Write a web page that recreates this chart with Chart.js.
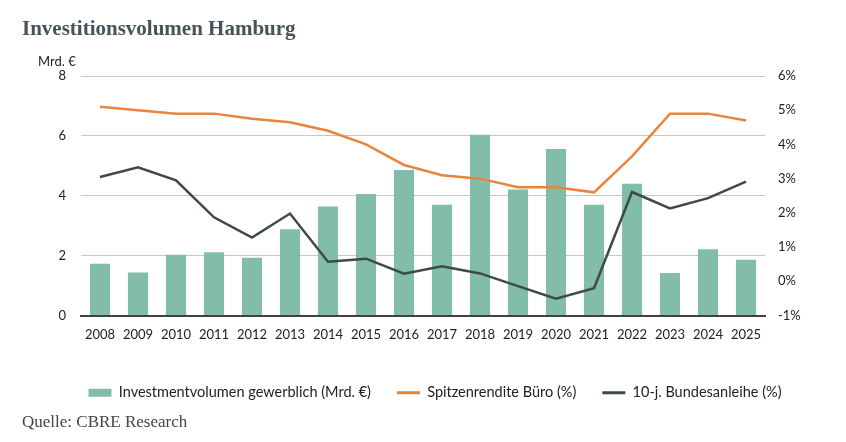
<!DOCTYPE html>
<html><head><meta charset="utf-8">
<script src="https://cdn.jsdelivr.net/npm/chart.js@4/dist/chart.umd.min.js"></script>
<style>
html,body{margin:0;padding:0;background:#fff;}
#wrap{position:relative;width:846px;height:442px;}
#title{position:absolute;left:22px;top:16px;font-family:"Liberation Serif","Times New Roman",serif;font-weight:bold;font-size:21px;color:#46545a;white-space:nowrap;}
#unit{position:absolute;left:38px;top:53px;font-family:Lato,"Open Sans",sans-serif;font-size:13px;color:#222;}
#src{position:absolute;left:22px;top:412px;font-family:"Liberation Serif","Times New Roman",serif;font-size:17px;color:#444;white-space:nowrap;}
canvas{position:absolute;left:0;top:0;}
</style></head>
<body><div id="wrap">
<canvas id="c" width="846" height="442"></canvas>
<div id="title">Investitionsvolumen Hamburg</div>
<div id="unit">Mrd. €</div>
<div id="src">Quelle: CBRE Research</div>
</div>
<script>
const years = ['2008','2009','2010','2011','2012','2013','2014','2015','2016','2017','2018','2019','2020','2021','2022','2023','2024','2025'];
const investment = [1.73,1.44,2.03,2.11,1.93,2.88,3.64,4.06,4.86,3.70,6.04,4.21,5.56,3.70,4.40,1.42,2.21,1.86];
const primeYield = [5.1,5.0,4.9,4.9,4.75,4.65,4.4,4.0,3.4,3.1,3.0,2.75,2.75,2.6,3.65,4.9,4.9,4.7];
const bund10 = [3.05,3.33,2.95,1.87,1.28,1.98,0.57,0.66,0.22,0.44,0.23,-0.14,-0.51,-0.20,2.61,2.13,2.43,2.91];
const leftTicks = [0,2,4,6,8];
const rightTicks = [-1,0,1,2,3,4,5,6];

const FONT = {family:'Lato, "Open Sans", sans-serif', size:13};
const LFONT = {family:'Lato, "Open Sans", sans-serif', size:14.5};
Chart.defaults.font = FONT;
Chart.defaults.color = '#222';

new Chart(document.getElementById('c'), {
  data: {
    labels: years,
    datasets: [
      {type:'bar', label:'Investmentvolumen gewerblich (Mrd. €)', data:investment, backgroundColor:'#82bcaa', borderWidth:0, yAxisID:'y', order:3, categoryPercentage:1, barPercentage:0.53},
      {type:'line', label:'Spitzenrendite Büro (%)', data:primeYield, borderColor:'#e8853d', backgroundColor:'#e8853d', borderWidth:2.5, pointRadius:0, tension:0, yAxisID:'y1', order:2},
      {type:'line', label:'10-j. Bundesanleihe (%)', data:bund10, borderColor:'#3e4a48', backgroundColor:'#3e4a48', borderWidth:2.5, pointRadius:0, tension:0, yAxisID:'y1', order:1}
    ]
  },
  options: {
    responsive:false, animation:false,
    layout:{padding:{top:76,left:24,right:0,bottom:32}},
    plugins:{
      tooltip:{enabled:false},
      legend:{position:'bottom', labels:{usePointStyle:true, pointStyleWidth:23, boxHeight:8, padding:26, color:'#222', font:LFONT,
        sort:(a,b)=>a.datasetIndex-b.datasetIndex,
        generateLabels:(chart)=>chart.data.datasets.map((d,i)=>({text:d.label, fillStyle:d.backgroundColor, strokeStyle:d.type==='bar'?d.backgroundColor:d.borderColor, lineWidth:d.type==='bar'?0:3, pointStyle:d.type==='bar'?'rect':'line', datasetIndex:i, hidden:false, fontColor:'#222'}))
      }}
    },
    scales:{
      x:{grid:{display:false, drawTicks:false}, border:{color:'#404040', width:2}, ticks:{padding:12, color:'#222', maxRotation:0, autoSkip:false},
        afterFit:(s)=>{s.height=44;}},
      y:{position:'left', min:0, max:8, afterBuildTicks:(s)=>{s.ticks=leftTicks.map(v=>({value:v}));},
        grid:{color:'#c8c8c8', lineWidth:1, drawTicks:false}, border:{display:false}, ticks:{padding:15, color:'#222'},
        afterFit:(s)=>{s.width=57;}},
      y1:{position:'right', min:-1, max:6, afterBuildTicks:(s)=>{s.ticks=rightTicks.map(v=>({value:v}));},
        grid:{display:false, drawTicks:false}, border:{display:false}, ticks:{padding:13, color:'#222', callback:(v)=>v+'%'},
        afterFit:(s)=>{s.width=81;}}
    }
  }
});
</script>
</body></html>
